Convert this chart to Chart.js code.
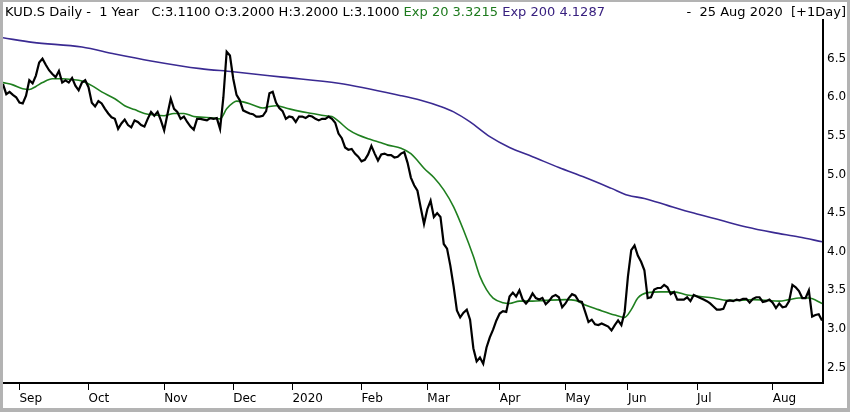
<!DOCTYPE html>
<html>
<head>
<meta charset="utf-8">
<script src="https://cdn.jsdelivr.net/npm/chart.js@4.4.1/dist/chart.umd.min.js"></script>
<style>
  html, body { margin: 0; padding: 0; background: #fff; }
  #wrap { width: 850px; height: 412px; position: relative; }
</style>
</head>
<body>
<div id="wrap"><canvas id="c"></canvas></div>
<script>
// ---- data (one close per trading day, 26 Aug 2019 .. 25 Aug 2020) ----
const closeValues = [
  6.17, 6.04, 6.07, 6.03, 6.00, 5.93, 5.92, 6.02, 6.22, 6.18,
  6.28, 6.45, 6.50, 6.42, 6.35, 6.30, 6.26, 6.34, 6.19, 6.22,
  6.19, 6.25, 6.15, 6.09, 6.19, 6.22, 6.13, 5.93, 5.88, 5.95,
  5.92, 5.85, 5.79, 5.74, 5.72, 5.59, 5.66, 5.71, 5.64, 5.61,
  5.70, 5.68, 5.64, 5.62, 5.72, 5.81, 5.76, 5.81, 5.70, 5.57,
  5.78, 5.98, 5.85, 5.81, 5.72, 5.75, 5.68, 5.62, 5.58, 5.72,
  5.72, 5.71, 5.70, 5.73, 5.72, 5.73, 5.59, 6.00, 6.59, 6.54,
  6.24, 6.03, 5.96, 5.83, 5.81, 5.79, 5.78, 5.75, 5.75, 5.76,
  5.82, 6.05, 6.07, 5.93, 5.86, 5.82, 5.72, 5.75, 5.74, 5.68,
  5.75, 5.75, 5.73, 5.76, 5.75, 5.72, 5.70, 5.72, 5.72, 5.75,
  5.72, 5.67, 5.53, 5.47, 5.35, 5.32, 5.33, 5.27, 5.23, 5.17,
  5.19, 5.26, 5.37, 5.27, 5.18, 5.26, 5.27, 5.25, 5.25, 5.22,
  5.23, 5.27, 5.29, 5.15, 4.96, 4.86, 4.79, 4.57, 4.36, 4.55,
  4.66, 4.45, 4.50, 4.45, 4.10, 4.04, 3.82, 3.55, 3.24, 3.15,
  3.21, 3.25, 3.12, 2.75, 2.58, 2.63, 2.55, 2.76, 2.89, 2.99,
  3.11, 3.20, 3.23, 3.22, 3.42, 3.47, 3.42, 3.50, 3.38, 3.33,
  3.38, 3.46, 3.40, 3.38, 3.40, 3.32, 3.36, 3.42, 3.44, 3.41,
  3.28, 3.33, 3.40, 3.45, 3.43, 3.36, 3.35, 3.22, 3.09, 3.12,
  3.06, 3.05, 3.07, 3.05, 3.03, 2.98, 3.05, 3.11, 3.05, 3.22,
  3.68, 4.02, 4.08, 3.95, 3.87, 3.76, 3.40, 3.41, 3.51, 3.53,
  3.53, 3.57, 3.54, 3.45, 3.48, 3.38, 3.38, 3.38, 3.41, 3.36,
  3.44, 3.42, 3.40, 3.38, 3.36, 3.33, 3.29, 3.25, 3.25, 3.26,
  3.36, 3.37, 3.36, 3.38, 3.37, 3.39, 3.39, 3.34, 3.39, 3.41,
  3.41, 3.35, 3.36, 3.38, 3.34, 3.27, 3.33, 3.28, 3.29, 3.36,
  3.57, 3.54, 3.49, 3.40, 3.40, 3.50, 3.16, 3.18, 3.19, 3.11
];

// EMA 20 read at selected trading days
const ema20Days = [0, 3, 6, 8, 10, 12, 15, 18, 21, 24, 27, 30, 34, 37, 40, 43, 46, 49, 52, 55,
  58, 61, 64, 66, 68, 70, 71, 73, 76, 79, 81, 83, 86, 90, 94, 98, 100, 102, 105, 108,
  112, 115, 117, 121, 124, 126, 128, 131, 134, 137, 140, 143, 145, 147, 149, 152, 154, 157, 161, 165,
  171, 174, 177, 181, 186, 189, 191, 193, 196, 200, 204, 208, 212, 216, 220, 224, 228, 232, 236, 239,
  242, 245, 249];
const ema20Values = [6.19, 6.16, 6.11, 6.10, 6.14, 6.19, 6.24, 6.24, 6.23, 6.21, 6.15, 6.07, 5.98, 5.89, 5.84, 5.79, 5.77, 5.76, 5.79, 5.79,
  5.75, 5.74, 5.73, 5.72, 5.85, 5.93, 5.95, 5.94, 5.90, 5.86, 5.88, 5.89, 5.86, 5.82, 5.79, 5.76, 5.75, 5.69, 5.58, 5.51,
  5.45, 5.41, 5.38, 5.34, 5.27, 5.18, 5.08, 4.96, 4.80, 4.58, 4.28, 3.94, 3.68, 3.51, 3.40, 3.34, 3.33, 3.36, 3.36, 3.37,
  3.38, 3.37, 3.31, 3.25, 3.18, 3.15, 3.25, 3.40, 3.47, 3.48, 3.48, 3.44, 3.42, 3.40, 3.37, 3.37, 3.38, 3.37, 3.36, 3.38,
  3.40, 3.40, 3.33];

// EMA 200 read at selected trading days
const ema200Days = [0, 9, 24, 34, 45, 60, 70, 85, 102, 121, 127, 133, 137, 142, 148, 154, 161, 169, 177, 185,
  190, 195, 202, 210, 218, 226, 234, 242, 249];
const ema200Values = [6.77, 6.71, 6.65, 6.56, 6.47, 6.37, 6.33, 6.26, 6.18, 6.02, 5.96, 5.88, 5.81, 5.68, 5.49, 5.35, 5.23, 5.09, 4.96, 4.82,
  4.73, 4.69, 4.60, 4.50, 4.41, 4.32, 4.25, 4.19, 4.13];

// axis ticks
const monthTickDays = [5, 26, 49, 70, 88, 109, 129, 151, 171, 190, 211, 234];
const monthTickLabels = ['Sep', 'Oct', 'Nov', 'Dec', '2020', 'Feb', 'Mar', 'Apr', 'May', 'Jun', 'Jul', 'Aug'];
const priceTicks = [2.5, 3.0, 3.5, 4.0, 4.5, 5.0, 5.5, 6.0, 6.5];

// header texts
const headerMain = 'KUD.S Daily -  1 Year   C:3.1100 O:3.2000 H:3.2000 L:3.1000 ';
const headerEma20 = 'Exp 20 3.3215 ';
const headerEma200 = 'Exp 200 4.1287';
const headerRight = '-  25 Aug 2020  [+1Day]';

const FONT = '"DejaVu Sans", sans-serif';

const framePlugin = {
  id: 'frame',
  beforeDraw(chart) {
    const ctx = chart.ctx;
    ctx.save();
    ctx.fillStyle = '#ffffff';
    ctx.fillRect(0, 0, chart.width, chart.height);
    ctx.restore();
  },
  afterDraw(chart) {
    const ctx = chart.ctx;
    const W = chart.width, H = chart.height;
    ctx.save();
    // header text
    ctx.font = '13px ' + FONT;
    ctx.textBaseline = 'alphabetic';
    ctx.textAlign = 'left';
    let x = 5;
    const y = 16;
    ctx.fillStyle = '#000000';
    ctx.fillText(headerMain, x, y);
    x += ctx.measureText(headerMain).width;
    ctx.fillStyle = '#1d7a1d';
    ctx.fillText(headerEma20, x, y);
    x += ctx.measureText(headerEma20).width;
    ctx.fillStyle = '#38207f';
    ctx.fillText(headerEma200, x, y);
    ctx.fillStyle = '#000000';
    ctx.textAlign = 'right';
    ctx.fillText(headerRight, W - 4, y);
    // gray outer frame
    ctx.fillStyle = '#b3b3b3';
    ctx.fillRect(0, 0, W, 2);
    ctx.fillRect(0, 0, 3, H);
    ctx.fillRect(W - 3, 0, 3, H);
    ctx.fillRect(0, H - 4, W, 4);
    ctx.restore();
  }
};

const ctx = document.getElementById('c').getContext('2d');
new Chart(ctx, {
  type: 'line',
  data: {
    datasets: [
      {
        label: 'Exp 200',
        data: ema200Days.map((d, i) => ({ x: d, y: ema200Values[i] })),
        borderColor: '#3a2a92',
        borderWidth: 1.6,
        pointRadius: 0,
        cubicInterpolationMode: 'monotone',
        order: 3
      },
      {
        label: 'Exp 20',
        data: ema20Days.map((d, i) => ({ x: d, y: ema20Values[i] })),
        borderColor: '#1f7f1f',
        borderWidth: 1.6,
        pointRadius: 0,
        cubicInterpolationMode: 'monotone',
        order: 2
      },
      {
        label: 'KUD.S',
        data: closeValues.map((v, i) => ({ x: i, y: v })),
        borderColor: '#000000',
        borderWidth: 2.2,
        pointRadius: 0,
        tension: 0,
        order: 1
      }
    ]
  },
  options: {
    responsive: true,
    maintainAspectRatio: false,
    animation: false,
    events: [],
    layout: { padding: { left: 3, top: 20, right: 0, bottom: 0 } },
    plugins: {
      legend: { display: false },
      title: { display: false },
      tooltip: { enabled: false }
    },
    scales: {
      x: {
        type: 'linear',
        position: 'bottom',
        min: 0,
        max: 249.3,
        afterBuildTicks(scale) {
          scale.ticks = monthTickDays.map(v => ({ value: v }));
        },
        afterFit(scale) { scale.height = 29; },
        grid: {
          display: true,
          drawOnChartArea: false,
          drawTicks: true,
          tickLength: 7,
          color: '#000000',
          lineWidth: 1
        },
        border: { display: true, color: '#000000', width: 2 },
        ticks: {
          autoSkip: false,
          maxRotation: 0,
          minRotation: 0,
          align: 'start',
          padding: 2,
          color: '#000000',
          font: { family: FONT, size: 12 },
          callback: (value, index) => monthTickLabels[index]
        }
      },
      y: {
        type: 'linear',
        position: 'right',
        min: 2.3,
        max: 7.0,
        afterBuildTicks(scale) {
          scale.ticks = priceTicks.map(v => ({ value: v }));
        },
        afterFit(scale) { scale.width = 27; },
        grid: { display: true, drawOnChartArea: false, drawTicks: false },
        border: { display: true, color: '#000000', width: 2 },
        ticks: {
          padding: 4,
          color: '#000000',
          font: { family: FONT, size: 12 },
          callback: v => Number(v).toFixed(1)
        }
      }
    }
  },
  plugins: [framePlugin]
});
</script>
</body>
</html>
